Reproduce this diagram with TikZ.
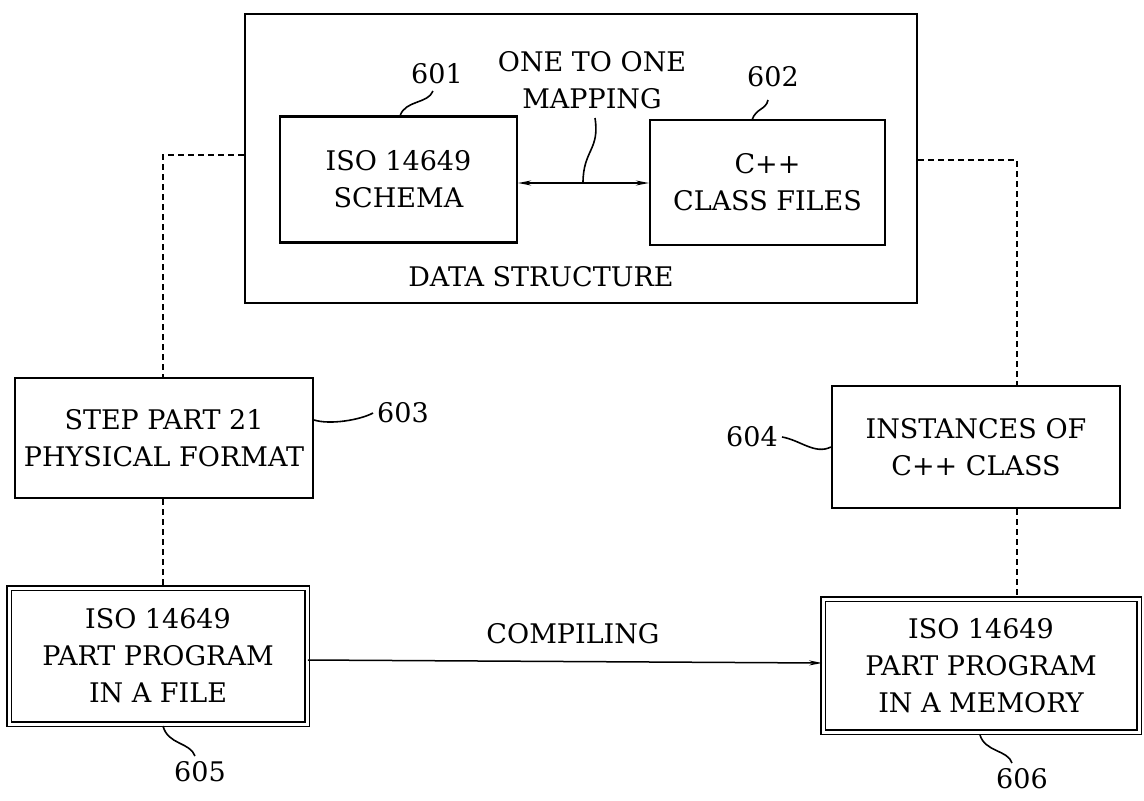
\documentclass[tikz,border=0pt]{standalone}
\usepackage{fontspec}
\setmainfont{DejaVu Serif}
\usetikzlibrary{arrows.meta}
\begin{document}
\begin{tikzpicture}[x=1pt,y=-1pt,
  txt/.style={font=\fontsize{27}{37}\selectfont, align=center},
  box/.style={draw, line width=2.2pt, txt, inner sep=0pt},
  dbox/.style={draw, line width=1.8pt, double, double distance=3pt, txt, inner sep=0pt},
  dashline/.style={draw, line width=1.1pt, dash pattern=on 6pt off 4pt},
  lead/.style={draw, line width=1.6pt},
  num/.style={font=\fontsize{27}{30}\selectfont, inner sep=0pt},
  tip/.style={-{Stealth[open,length=13pt,width=5pt]}}
]
\useasboundingbox (0,0) rectangle (1144,801);
% outer data structure box
\node[box, minimum width=672pt, minimum height=289pt] (ds) at (581,158.5) {};
\node[txt, inner sep=0pt] (dslab) at (541,277) {DATA STRUCTURE};
% inner boxes
\node[box, minimum width=237pt, minimum height=126pt] (b601) at (398.5,179.5) {ISO 14649\\SCHEMA};
\node[box, minimum width=235pt, minimum height=125pt] (b602) at (767.5,182.5) {C++\\CLASS FILES};
\node[box, minimum width=298pt, minimum height=120pt] (b603) at (164,438) {STEP PART 21\\PHYSICAL FORMAT};
\node[box, minimum width=288pt, minimum height=122pt] (b604) at (976,447) {INSTANCES OF\\C++ CLASS};
\node[dbox, minimum width=298pt, minimum height=136pt] (b605) at (158,656) {ISO 14649\\PART PROGRAM\\IN A FILE};
\node[dbox, minimum width=316pt, minimum height=133pt] (b606) at (981,665.5) {ISO 14649\\PART PROGRAM\\IN A MEMORY};
% labels
\node[num] (n601) at (437,74) {601};
\node[num] (n602) at (773,77) {602};
\node[num] (n603) at (403,413) {603};
\node[num] (n604) at (752,437) {604};
\node[num] (n605) at (200,772) {605};
\node[num] (n606) at (1022,779) {606};
\node[txt, inner sep=0pt] (map) at (592,80) {ONE TO ONE\\MAPPING};
\node[txt, inner sep=0pt] (comp) at (573,634) {COMPILING};
% mapping arrows
\coordinate (mid) at (583,183);
\draw[line width=1.5pt, tip] (mid) -- (b601.east |- mid);
\draw[line width=1.5pt, tip] (mid) -- (b602.west |- mid);
\draw[lead] (mid) .. controls (583,150) and (600,150) .. (595,118);
% compiling arrow
\draw[line width=1.5pt, tip] (b605.east |- 0,660) -- (b606.west |- 0,663);
% leaders
\draw[lead] (400,116) .. controls (405,100) and (428,104) .. (433,91);
\draw[lead] (752,120) .. controls (756,108) and (766,110) .. (768,100);
\draw[lead] (b603.east |- 0,420) .. controls (330,425) and (360,420) .. ([xshift=-4pt]n603.west);
\draw[lead] ([xshift=4pt]n604.east) .. controls (800,440) and (815,455) .. (b604.west |- 0,447);
\draw[lead] (163,726) .. controls (168,745) and (190,742) .. (195,756);
\draw[lead] (980,735) .. controls (985,752) and (1008,750) .. (1012,763);
% dashed links
\draw[dashline] (ds.west |- 0,155) -- (163,155) -- (b603.north -| 163,0);
\draw[dashline] (ds.east |- 0,160) -- (1017,160) -- (b604.north -| 1017,0);
\draw[dashline] (b603.south -| 163,0) -- (b605.north -| 163,0);
\draw[dashline] (b604.south -| 1017,0) -- (b606.north -| 1017,0);
\end{tikzpicture}
\end{document}
